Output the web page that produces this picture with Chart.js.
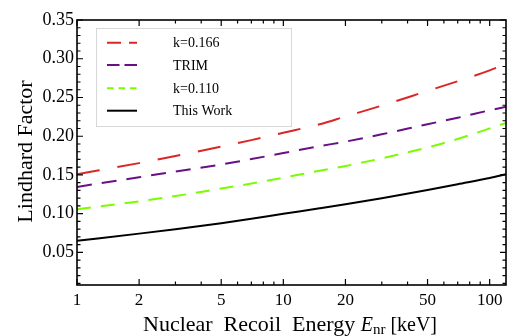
<!DOCTYPE html>
<html>
<head>
<meta charset="utf-8">
<script src="https://cdn.jsdelivr.net/npm/chart.js@4.4.1/dist/chart.umd.min.js"></script>
<style>
  html, body { margin: 0; padding: 0; background: #fff; }
  #wrap { width: 510px; height: 336px; }
</style>
</head>
<body>
<div id="wrap"><canvas id="lindhardChart" width="510" height="336"></canvas></div>
<script>
// recoil energies in keV
const energies = [1, 2, 3, 5, 7, 10, 15, 20, 30, 50, 70, 100, 120];
const k166 = [0.151, 0.1653, 0.1744, 0.1866, 0.195, 0.2045, 0.2155, 0.2255, 0.2395, 0.2585, 0.271, 0.285, 0.2935];
const trim = [0.1346, 0.1471, 0.1545, 0.1635, 0.1705, 0.1783, 0.1872, 0.193, 0.2025, 0.2155, 0.2238, 0.2335, 0.238];
const k110 = [0.1058, 0.116, 0.1228, 0.1325, 0.139, 0.1465, 0.1555, 0.1615, 0.1715, 0.1855, 0.1965, 0.21, 0.2173];
const thisWork = [0.065, 0.0743, 0.080, 0.0878, 0.0935, 0.0999, 0.107, 0.1122, 0.12, 0.1305, 0.138, 0.146, 0.151];

const seriesLabels = ['k=0.166', 'TRIM', 'k=0.110', 'This Work'];
const xMajorTicks = [1, 2, 5, 10, 20, 50, 100];
const xAllTicks = [1, 2, 3, 4, 5, 6, 7, 8, 9, 10, 20, 30, 40, 50, 60, 70, 80, 90, 100];
const yMajorTicks = [0.05, 0.10, 0.15, 0.20, 0.25, 0.30, 0.35];

const serif = '"Liberation Serif", "DejaVu Serif", serif';

// y ticks every 0.01, labels only on the majors
const yAllTicks = [];
for (let i = 1; i <= 35; i++) yAllTicks.push(i / 100);
const isYMajor = v => yMajorTicks.some(m => Math.abs(m - v) < 1e-6);

const toPoints = vals => vals.map((v, i) => ({ x: energies[i], y: v }));

// inward ticks on all four sides + frame
const frameTicks = {
    id: 'frameTicks',
    afterDatasetsDraw(chart) {
        const { ctx, chartArea: a, scales: { x, y } } = chart;
        ctx.save();
        ctx.strokeStyle = '#000';
        ctx.lineWidth = 1.2;
        ctx.beginPath();
        x.ticks.forEach(t => {
            const px = x.getPixelForValue(t.value);
            const len = xMajorTicks.includes(t.value) ? 6 : 3.5;
            ctx.moveTo(px, a.bottom); ctx.lineTo(px, a.bottom - len);
            ctx.moveTo(px, a.top); ctx.lineTo(px, a.top + len);
        });
        y.ticks.forEach(t => {
            const py = y.getPixelForValue(t.value);
            const len = isYMajor(t.value) ? 6 : 3.5;
            ctx.moveTo(a.left, py); ctx.lineTo(a.left + len, py);
            ctx.moveTo(a.right, py); ctx.lineTo(a.right - len, py);
        });
        ctx.stroke();
        ctx.lineWidth = 1.6;
        ctx.strokeRect(a.left, a.top, a.right - a.left, a.bottom - a.top);
        ctx.restore();
    }
};

// legend samples use shorter dashes than the curves
const legendDash = [[14, 8], [12.5, 5], [6.5, 5], []];

const legendBox = {
    id: 'legendBox',
    afterDraw(chart) {
        const { ctx } = chart;
        ctx.save();
        ctx.fillStyle = '#fff';
        ctx.strokeStyle = '#d8d8d8';
        ctx.lineWidth = 1;
        ctx.fillRect(97, 28, 195, 98);
        ctx.strokeRect(96.5, 28.5, 195, 98);
        const rows = [42.7, 65, 88.3, 110.7];
        chart.data.datasets.forEach((ds, i) => {
            const yy = rows[i];
            ctx.strokeStyle = ds.borderColor;
            ctx.lineWidth = 2;
            ctx.setLineDash(legendDash[i]);
            ctx.beginPath();
            ctx.moveTo(107, yy); ctx.lineTo(137, yy);
            ctx.stroke();
            ctx.setLineDash([]);
            ctx.fillStyle = '#000';
            ctx.font = '14px ' + serif;
            ctx.textBaseline = 'middle';
            ctx.fillText(ds.label, 173, yy + 1);
        });
        ctx.restore();
    }
};

const axisTitles = {
    id: 'axisTitles',
    afterDraw(chart) {
        const { ctx } = chart;
        ctx.save();
        ctx.fillStyle = '#000';
        ctx.textBaseline = 'alphabetic';
        // y title
        ctx.save();
        ctx.translate(32, 151.5);
        ctx.rotate(-Math.PI / 2);
        ctx.textAlign = 'center';
        ctx.font = '22px ' + serif;
        ctx.fillText('Lindhard Factor', 0, 0);
        ctx.restore();
        // x title with italic E and subscript
        let xx = 143;
        const base = 331;
        ctx.textAlign = 'left';
        ctx.font = '22px ' + serif;
        const part1 = 'Nuclear  Recoil  Energy ';
        ctx.fillText(part1, xx, base);
        xx += ctx.measureText(part1).width;
        ctx.font = 'italic 20px ' + serif;
        ctx.fillText('E', xx, base);
        xx += ctx.measureText('E').width;
        ctx.font = '15px ' + serif;
        ctx.fillText('nr', xx, base + 3);
        xx += ctx.measureText('nr').width;
        ctx.font = '20px ' + serif;
        ctx.fillText(' [keV]', xx, base);
        ctx.restore();
    }
};

new Chart(document.getElementById('lindhardChart'), {
    type: 'line',
    data: {
        datasets: [
            { label: seriesLabels[0], data: toPoints(k166), borderColor: 'rgb(218,38,38)', borderDash: [23, 18] },
            { label: seriesLabels[1], data: toPoints(trim), borderColor: 'rgb(104,16,132)', borderDash: [15, 10] },
            { label: seriesLabels[2], data: toPoints(k110), borderColor: 'rgb(124,252,0)', borderDash: [14, 10] },
            { label: seriesLabels[3], data: toPoints(thisWork), borderColor: '#000', borderDash: [] }
        ].map(ds => Object.assign(ds, {
            borderWidth: 2,
            pointRadius: 0,
            fill: false,
            cubicInterpolationMode: 'monotone'
        }))
    },
    options: {
        responsive: false,
        animation: false,
        devicePixelRatio: 1,
        layout: { padding: { top: 20, right: 4, left: 0, bottom: 0 } },
        plugins: {
            legend: { display: false },
            tooltip: { enabled: false }
        },
        scales: {
            x: {
                type: 'logarithmic',
                min: 1,
                max: 120,
                grid: { display: false, drawTicks: false, tickLength: 0 },
                border: { display: false },
                afterBuildTicks: s => { s.ticks = xAllTicks.map(v => ({ value: v })); },
                afterFit: s => { s.height = 51; },
                ticks: {
                    autoSkip: false,
                    maxRotation: 0,
                    padding: 5,
                    color: '#000',
                    font: { family: serif, size: 17 },
                    callback: v => xMajorTicks.includes(v) ? String(v) : ''
                }
            },
            y: {
                min: 0.008,
                max: 0.35,
                grid: { display: false, drawTicks: false, tickLength: 0 },
                border: { display: false },
                afterBuildTicks: s => { s.ticks = yAllTicks.map(v => ({ value: v })); },
                afterFit: s => { s.width = 77; },
                ticks: {
                    autoSkip: false,
                    padding: 3,
                    color: '#000',
                    font: { family: serif, size: 18 },
                    callback: v => isYMajor(v) ? v.toFixed(2) : ''
                }
            }
        }
    },
    plugins: [frameTicks, legendBox, axisTitles]
});
</script>
</body>
</html>
